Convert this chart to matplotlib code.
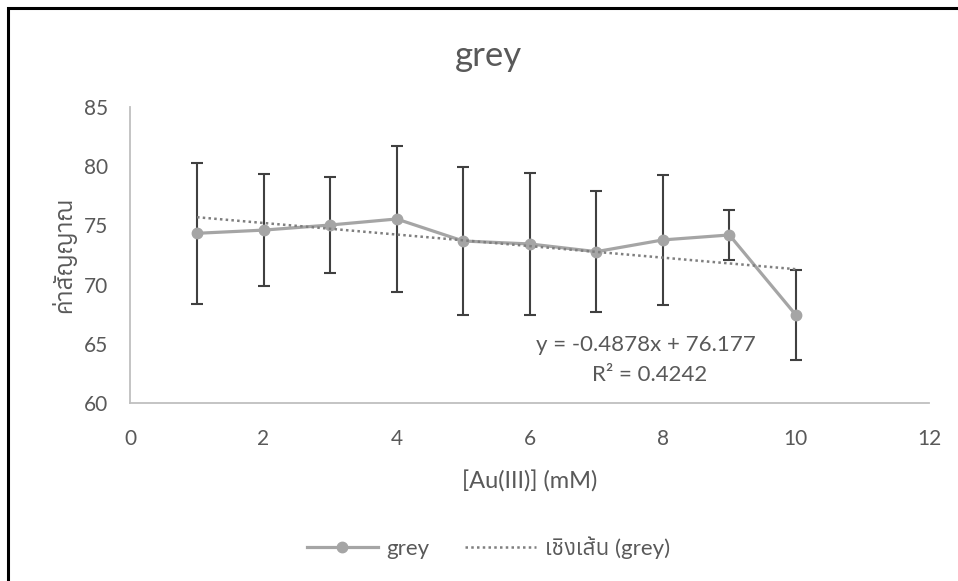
import numpy as np
import matplotlib
matplotlib.use("Agg")
import matplotlib.pyplot as plt
from matplotlib import font_manager as fm
from matplotlib.ft2font import FT2Font
from matplotlib.lines import Line2D
from matplotlib.patches import Rectangle

# ---------------- data ----------------
x_vals = [1, 2, 3, 4, 5, 6, 7, 8, 9, 10]
y_vals = [74.33, 74.60, 75.03, 75.54, 73.68, 73.43, 72.78, 73.77, 74.19, 67.43]
y_err = [5.95, 4.70, 4.07, 6.15, 6.27, 6.00, 5.10, 5.50, 2.10, 3.83]
trend_slope = -0.4878
trend_intercept = 76.177
r_squared = 0.4242
x_ticks = [0, 2, 4, 6, 8, 10, 12]
y_ticks = [60, 65, 70, 75, 80, 85]
title_text = "grey"
x_label = "[Au(III)] (mM)"
y_label = "ค่าสัญญาณ"
series_name = "grey"
trend_name = "เชิงเส้น (grey)"

# ---------------- fonts ----------------
thai_family = None
cands = list(fm.fontManager.ttflist)
cands.sort(key=lambda f: ("CJK" in f.name, f.name))
for f in cands:
    try:
        cm = FT2Font(f.fname).get_charmap()
    except Exception:
        continue
    if 0x0E04 in cm and 0x0E0D in cm and 0x0E13 in cm:
        thai_family = f.name
        break
families = ["Lato"]
if thai_family:
    families.append(thai_family)
families.append("DejaVu Sans")
plt.rcParams["font.family"] = families

txt_col = "#595959"
line_col = "#a5a5a5"
trend_col = "#7f7f7f"
trend_ls = (0, (1, 1.3))

fig = plt.figure(figsize=(9.58, 5.81), dpi=100)
ax = fig.add_axes([0.1362, 0.3064, 0.8335, 0.5095])

ax.errorbar(x_vals, y_vals, yerr=y_err, fmt="none", ecolor="#404040",
            elinewidth=1.5, capsize=4, capthick=1.5, zorder=2)
ax.plot(x_vals, y_vals, color=line_col, lw=2.3, marker="o", ms=7.5,
        mfc=line_col, mec=line_col, zorder=3)
tx = np.array([x_vals[0], x_vals[-1]], dtype=float)
ax.plot(tx, trend_slope * tx + trend_intercept, color=trend_col, lw=1.8,
        linestyle=trend_ls, zorder=4)

ax.set_xlim(x_ticks[0], x_ticks[-1])
ax.set_ylim(y_ticks[0], y_ticks[-1])
ax.set_xticks(x_ticks)
ax.set_yticks(y_ticks)
for s in ["top", "right"]:
    ax.spines[s].set_visible(False)
for s in ["left", "bottom"]:
    ax.spines[s].set_color("#bfbfbf")
    ax.spines[s].set_linewidth(1.3)
ax.tick_params(axis="both", length=0, labelsize=15, labelcolor=txt_col)
ax.tick_params(axis="y", pad=16)
ax.tick_params(axis="x", pad=19)

fig.text(488 / 958, 1 - 56 / 581, title_text, fontsize=25, color=txt_col,
         ha="center", va="center")
ax.set_xlabel(x_label, fontsize=17, color=txt_col, labelpad=15)
ax.set_ylabel(y_label, fontsize=17, color=txt_col, labelpad=6)

ax.text(7.75, 64.9, f"y = {trend_slope:.4f}x + {trend_intercept:.3f}",
        fontsize=16, color=txt_col, ha="center", va="center")
ax.text(7.8, 62.4, f"R² = {r_squared:.4f}",
        fontsize=16, color=txt_col, ha="center", va="center")

handles = [
    Line2D([], [], color=line_col, lw=2.3, marker="o", ms=7.5),
    Line2D([], [], color=trend_col, lw=1.8, linestyle=trend_ls),
]
fig.legend(handles, [series_name, trend_name], loc="center",
           bbox_to_anchor=(0.51, 0.057), ncol=2, frameon=False,
           fontsize=16, labelcolor=txt_col, handlelength=3.2,
           columnspacing=1.6, handletextpad=0.4)

fig.add_artist(Rectangle((8 / 958, -0.1), 1.2, 1 - 8 / 581 + 0.1,
                         transform=fig.transFigure, fill=False,
                         edgecolor="black", lw=2.2))

fig.savefig("out.png", dpi=100)
